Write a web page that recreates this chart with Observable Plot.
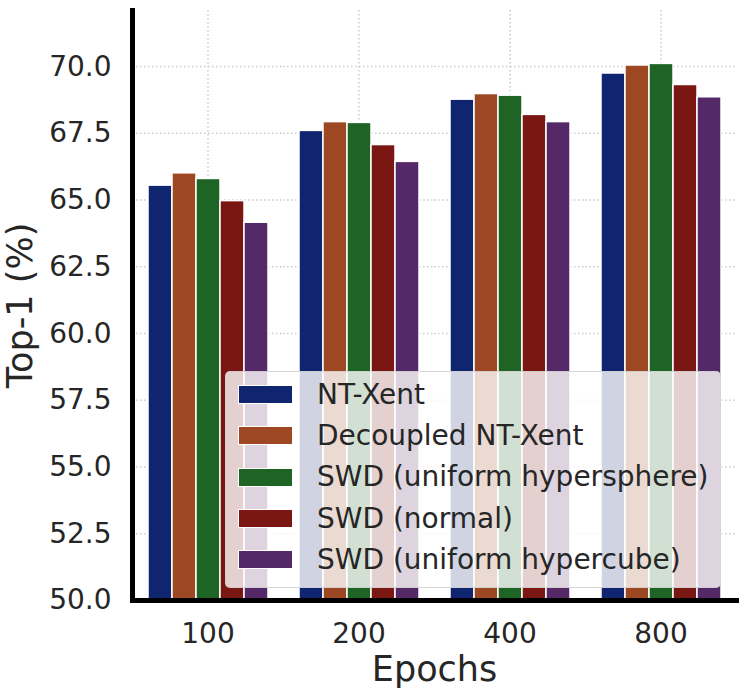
<!DOCTYPE html>
<html>
<head>
<meta charset="utf-8">
<script src="https://cdn.jsdelivr.net/npm/d3@7"></script>
<script src="https://cdn.jsdelivr.net/npm/@observablehq/plot@0.6"></script>
<style>
  html, body { margin: 0; padding: 0; background: white; }
  #wrap { position: relative; width: 748px; height: 694px; font-family: "DejaVu Sans", sans-serif; }
  #wrap svg { display: block; }
  [aria-label="y-axis label"], [aria-label="fx-axis label"] { font-size: 35px; }
  #legend {
    position: absolute; left: 225px; top: 371px; width: 494px; height: 213px;
    background: rgba(255,255,255,0.8); border: 1px solid rgba(204,204,204,0.8);
    border-radius: 5px; box-sizing: content-box; padding-top: 2px;
  }
  .row { display: flex; align-items: center; height: 41.3px; }
  .sw { width: 53px; height: 17px; margin-left: 12px; border: 1px solid white; flex: none; }
  .lab { margin-left: 24px; font-size: 28px; color: #262626; white-space: nowrap; line-height: 1; }
</style>
</head>
<body>
<div id="wrap"></div>
<script>
const epochs = ["100", "200", "400", "800"];
const methods = ["NT-Xent", "Decoupled NT-Xent", "SWD (uniform hypersphere)", "SWD (normal)", "SWD (uniform hypercube)"];
const colors = ["#10256f", "#9d4822", "#1e6525", "#7b1712", "#552967"];
const ntXent    = [65.54, 67.59, 68.76, 69.74];
const decoupled = [66.00, 67.92, 68.97, 70.04];
const swdSphere = [65.79, 67.89, 68.91, 70.10];
const swdNormal = [64.96, 67.06, 68.19, 69.31];
const swdCube   = [64.15, 66.43, 67.92, 68.85];
const yTicks = [50, 52.5, 55, 57.5, 60, 62.5, 65, 67.5, 70];
const yDomain = [50, 72.1];

const series = [ntXent, decoupled, swdSphere, swdNormal, swdCube];
const data = [];
epochs.forEach((e, i) => methods.forEach((m, j) => data.push({epoch: e, method: m, value: series[j][i]})));

const gridStyle = {stroke: "#cccccc", strokeOpacity: 1, strokeWidth: 1.5, strokeDasharray: "1.5,2.5"};

const chart = Plot.plot({
  width: 748, height: 694,
  marginLeft: 132, marginRight: 12, marginTop: 10, marginBottom: 94,
  style: {fontFamily: "DejaVu Sans", color: "#262626", background: "white", overflow: "visible"},
  fx: {domain: epochs, padding: 0},
  x: {domain: methods, paddingInner: 0, paddingOuter: 0.625, axis: null},
  y: {domain: yDomain},
  color: {domain: methods, range: colors},
  marks: [
    Plot.gridY(yTicks, gridStyle),
    Plot.gridFx(gridStyle),
    Plot.barY(data, {fx: "epoch", x: "method", y1: yDomain[0], y2: "value", fill: "method", stroke: "white", strokeWidth: 1.5}),
    Plot.axisY({ticks: yTicks, tickFormat: d => d.toFixed(1), tickSize: 0, tickPadding: 21, fontSize: 28,
      label: "Top-1 (%)", labelAnchor: "center", labelArrow: "none", labelOffset: 125}),
    Plot.axisFx({anchor: "bottom", tickSize: 0, tickPadding: 23, fontSize: 28, label: "Epochs", labelAnchor: "center", labelArrow: "none", labelOffset: 80}),
    Plot.frame({anchor: "left", facetAnchor: "left", stroke: "black", strokeWidth: 5}),
    Plot.frame({anchor: "bottom", stroke: "black", strokeWidth: 5})
  ]
});
document.getElementById("wrap").appendChild(chart);

const legend = d3.select("#wrap").append("div").attr("id", "legend");
const rows = legend.selectAll(".row").data(methods).join("div").attr("class", "row");
rows.append("div").attr("class", "sw").style("background", (d, i) => colors[i]);
rows.append("div").attr("class", "lab").text(d => d);
</script>
</body>
</html>
